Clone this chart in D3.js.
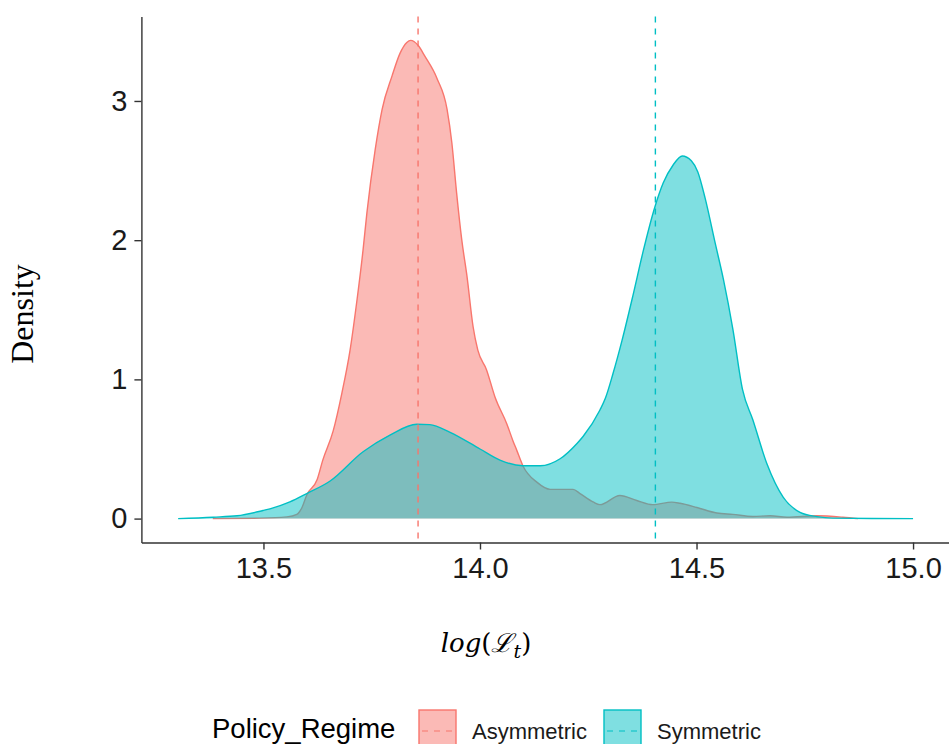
<!DOCTYPE html>
<html>
<head>
<meta charset="utf-8">
<script src="https://cdn.jsdelivr.net/npm/d3@7"></script>
<style>
  html, body { margin: 0; padding: 0; background: #fff; }
  svg { display: block; }
</style>
</head>
<body>
<svg id="chart" width="949" height="744"></svg>
<script>
// ---------------- data ----------------
const regimes = ["Asymmetric", "Symmetric"];
const regimeColors = ["#F8766D", "#00BFC4"];

const asymX = [13.383, 13.492, 13.554, 13.577, 13.589, 13.600, 13.624, 13.637, 13.661, 13.681,
  13.700, 13.716, 13.730, 13.739, 13.758, 13.774, 13.797, 13.815, 13.831, 13.840,
  13.857, 13.873, 13.901, 13.924, 13.935, 13.946, 13.958, 13.970, 13.984, 13.995,
  14.015, 14.035, 14.062, 14.076, 14.085, 14.099, 14.132, 14.162, 14.215, 14.231,
  14.261, 14.277, 14.323, 14.362, 14.399, 14.443, 14.462, 14.501, 14.547, 14.584,
  14.630, 14.670, 14.709, 14.778, 14.838, 14.873];
const asymDensity = [0, 0.003, 0.012, 0.03, 0.08, 0.17, 0.28, 0.42, 0.63, 0.90,
  1.21, 1.57, 1.93, 2.20, 2.65, 2.94, 3.18, 3.34, 3.42, 3.435,
  3.40, 3.32, 3.16, 2.94, 2.70, 2.34, 2.00, 1.74, 1.38, 1.21,
  1.07, 0.87, 0.68, 0.56, 0.49, 0.38, 0.26, 0.21, 0.21, 0.18,
  0.12, 0.10, 0.166, 0.13, 0.10, 0.118, 0.11, 0.08, 0.04, 0.03,
  0.015, 0.02, 0.01, 0.02, 0.01, 0];

const symX = [13.303, 13.384, 13.439, 13.499, 13.515, 13.561, 13.600, 13.654, 13.730, 13.792,
  13.854, 13.884, 13.931, 14.000, 14.046, 14.099, 14.139, 14.185, 14.224, 14.238,
  14.277, 14.289, 14.307, 14.328, 14.353, 14.376, 14.404, 14.423, 14.446, 14.467,
  14.488, 14.503, 14.520, 14.543, 14.562, 14.584, 14.606, 14.630, 14.663, 14.700,
  14.739, 14.778, 14.815, 15.000];
const symDensity = [0, 0.01, 0.02, 0.058, 0.07, 0.12, 0.18, 0.27, 0.48, 0.60,
  0.678, 0.675, 0.62, 0.50, 0.42, 0.38, 0.38, 0.43, 0.54, 0.59,
  0.78, 0.86, 1.04, 1.28, 1.60, 1.91, 2.24, 2.41, 2.54, 2.605,
  2.57, 2.49, 2.30, 1.98, 1.72, 1.36, 0.93, 0.71, 0.39, 0.154,
  0.045, 0.014, 0.003, 0];

const regimeMeans = [13.857, 14.405];
const xTickValues = [13.5, 14.0, 14.5, 15.0];
const yTickValues = [0, 1, 2, 3];
const xTitle = ["log(", "ℒ", "t", ")"];
const yTitle = "Density";
const legendTitle = "Policy_Regime";

// ---------------- layout ----------------
const svg = d3.select("#chart");
const series = [
  asymX.map((x, i) => ({ x, d: asymDensity[i] })),
  symX.map((x, i) => ({ x, d: symDensity[i] }))
];

const allX = asymX.concat(symX);
const xMin = d3.min(allX), xMax = d3.max(allX);
const yMax = d3.max(asymDensity.concat(symDensity));
const xPad = (xMax - xMin) * 0.05, yPad = yMax * 0.05;

const x = d3.scaleLinear().domain([xMin - xPad, xMax + xPad]).range([141.4, 949.8]);
const y = d3.scaleLinear().domain([-yPad, yMax + yPad]).range([542.5, 16.5]);

const area = d3.area()
  .x(p => x(p.x)).y0(y(0)).y1(p => y(p.d))
  .curve(d3.curveMonotoneX);
const line = d3.line()
  .x(p => x(p.x)).y(p => y(p.d))
  .curve(d3.curveMonotoneX);

const plot = svg.append("g");
series.forEach((s, i) => {
  plot.append("path").datum(s)
    .attr("d", area)
    .attr("fill", regimeColors[i]).attr("fill-opacity", 0.5);
  plot.append("path").datum(s)
    .attr("d", line)
    .attr("fill", "none").attr("stroke", regimeColors[i]).attr("stroke-width", 1.4);
});

// mean lines
plot.selectAll(".vline").data(regimeMeans).enter().append("line")
  .attr("x1", d => x(d)).attr("x2", d => x(d))
  .attr("y1", y.range()[1]).attr("y2", y.range()[0])
  .attr("stroke", (d, i) => regimeColors[i])
  .attr("stroke-width", 1.4)
  .attr("stroke-dasharray", "6,6");

// axes
const tickFont = "Liberation Sans, Arial, sans-serif";
const xAxis = svg.append("g").attr("transform", `translate(0,${y.range()[0]})`)
  .call(d3.axisBottom(x).tickValues(xTickValues).tickFormat(d3.format(".1f"))
    .tickSize(7).tickSizeOuter(0).tickPadding(8));
const yAxis = svg.append("g").attr("transform", `translate(${x.range()[0]},0)`)
  .call(d3.axisLeft(y).tickValues(yTickValues).tickFormat(d3.format("d"))
    .tickSize(7).tickSizeOuter(0).tickPadding(7));
[xAxis, yAxis].forEach(a => {
  a.select(".domain").attr("stroke", "#333").attr("stroke-width", 1.4);
  a.selectAll(".tick line").attr("stroke", "#333").attr("stroke-width", 1.4);
  a.selectAll(".tick text").attr("fill", "#1a1a1a")
    .style("font-family", tickFont).style("font-size", "29px");
});

// axis titles
svg.append("text")
  .attr("transform", "translate(33,314) rotate(-90)")
  .attr("text-anchor", "middle")
  .style("font-family", "Liberation Serif, Times New Roman, serif")
  .style("font-size", "32px").attr("fill", "#000")
  .text(yTitle);

const xt = svg.append("text")
  .attr("x", 486).attr("y", 652)
  .attr("text-anchor", "middle")
  .style("font-family", "DejaVu Serif, serif")
  .style("font-size", "26px").attr("fill", "#000");
xt.append("tspan").style("font-style", "italic").text(xTitle[0].slice(0, 3));
xt.append("tspan").text(xTitle[0].slice(3));
xt.append("tspan").style("font-style", "italic").text(xTitle[1]);
xt.append("tspan").attr("dy", 6).style("font-size", "19px").style("font-style", "italic").text(xTitle[2]);
xt.append("tspan").attr("dy", -6).text(xTitle[3]);

// legend
const lg = svg.append("g");
lg.append("text").attr("x", 212).attr("y", 738)
  .style("font-family", tickFont).style("font-size", "27.5px").attr("fill", "#000")
  .text(legendTitle);
const keyX = [419, 604];
const labelX = [472, 657];
regimes.forEach((r, i) => {
  lg.append("rect").attr("x", keyX[i]).attr("y", 710).attr("width", 37).attr("height", 42)
    .attr("fill", regimeColors[i]).attr("fill-opacity", 0.5)
    .attr("stroke", regimeColors[i]).attr("stroke-width", 1.4);
  lg.append("line").attr("x1", keyX[i] + 2).attr("x2", keyX[i] + 35)
    .attr("y1", 731).attr("y2", 731)
    .attr("stroke", regimeColors[i]).attr("stroke-width", 1.2)
    .attr("stroke-dasharray", "6,6").attr("stroke-dashoffset", -1);
  lg.append("text").attr("x", labelX[i]).attr("y", 739)
    .style("font-family", tickFont).style("font-size", "22px").attr("fill", "#1a1a1a")
    .text(r);
});
</script>
</body>
</html>
